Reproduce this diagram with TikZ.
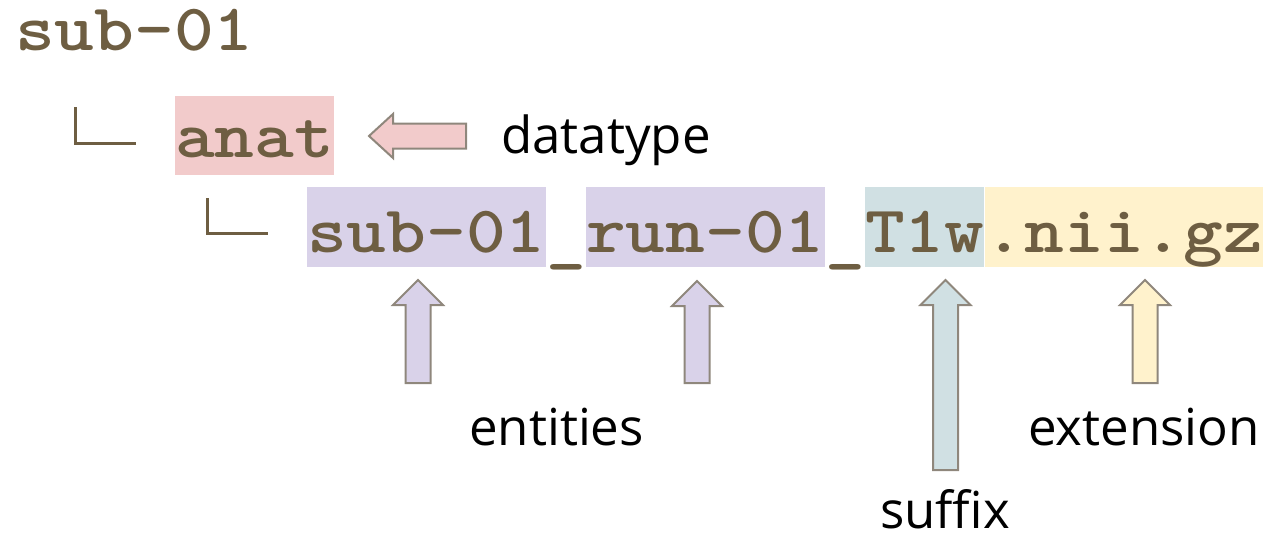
\documentclass[tikz,border=0pt]{standalone}
\usepackage{fontspec}
\setmainfont{Open Sans}
\newfontfamily\codefont{lmmonolt10-bold}[Extension=.otf, FakeStretch=1.14]
\definecolor{codebrown}{HTML}{6E5E42}
\definecolor{pinkhl}{HTML}{F2CBCB}
\definecolor{purplehl}{HTML}{D9D2E9}
\definecolor{tealhl}{HTML}{D0E0E3}
\definecolor{yellowhl}{HTML}{FFF2CC}
\definecolor{arrowgray}{HTML}{8F877C}
\tikzset{
  code/.style={font=\codefont\fontsize{66.4}{70}\selectfont, text=codebrown,
    inner sep=0pt, text height=65pt, text depth=15pt, anchor=base west},
  lbl/.style={font=\fontsize{51}{60}\selectfont, text=black, inner sep=0pt, anchor=base west},
  blk/.style={draw=arrowgray, line width=2pt, line join=miter},
  tree/.style={draw=codebrown, line width=3pt}
}
% upward block arrow: name, centre x, tip y, tail y, fill colour
\newcommand\blockup[5]{%
  \draw[blk, fill=#5] (#2,#3) -- ++(25,25) -- ++(-12.5,0) -- (#2+12.5,#4)
    -- (#2-12.5,#4) -- (#2-12.5,#3+25) -- ++(-12.5,0) -- cycle;
  \coordinate (#1) at (#2,#3);}
% underscore set a little lower, just under the highlight boxes
\newcommand\lowbar{\raisebox{-7pt}{\_}}
\begin{document}
\begin{tikzpicture}[x=1pt,y=-1pt]
\useasboundingbox (0,0) rectangle (1268,536);

% directory tree
\node[code] (root) at (15,50) {sub-01};
\draw[tree] (75,107) -- (75,143) -- (136,143);
\node[code, fill=pinkhl, text height=61pt, text depth=18pt] (dtype) at (175,157) {anat};
\draw[tree] (207,198) -- (207,233) -- (268,233);

% file name split into its parts
\node[code, fill=purplehl] (ent1) at (307,252) {sub-01};
\node[code] (sep1) at (ent1.base east) {\lowbar};
\node[code, fill=purplehl] (ent2) at (sep1.base east) {run-01};
\node[code] (sep2) at (ent2.base east) {\lowbar};
\node[code, fill=tealhl] (sfx) at (sep2.base east) {T1w};
\node[code, fill=yellowhl] (ext) at (sfx.base east) {.nii.gz};

% datatype arrow pointing left
\draw[blk, fill=pinkhl] (369,136) -- (393,114) -- (393,123.5) -- (466,123.5)
  -- (466,148.5) -- (393,148.5) -- (393,158) -- cycle;
\coordinate (dtip) at (369,136);

% arrows pointing up at the parts
\blockup{a1}{418}{280}{383}{purplehl}
\blockup{a2}{697}{281}{383}{purplehl}
\blockup{a3}{945.5}{280}{470}{tealhl}
\blockup{a4}{1145}{280}{383}{yellowhl}

% labels
\node[lbl] (ldatatype) at (501,153) {datatype};
\node[lbl] (lentities) at (469,445) {entities};
\node[lbl] (lextension) at (1028,445) {extension};
\node[lbl] (lsuffix) at (880,528) {suffix};
\end{tikzpicture}
\end{document}
